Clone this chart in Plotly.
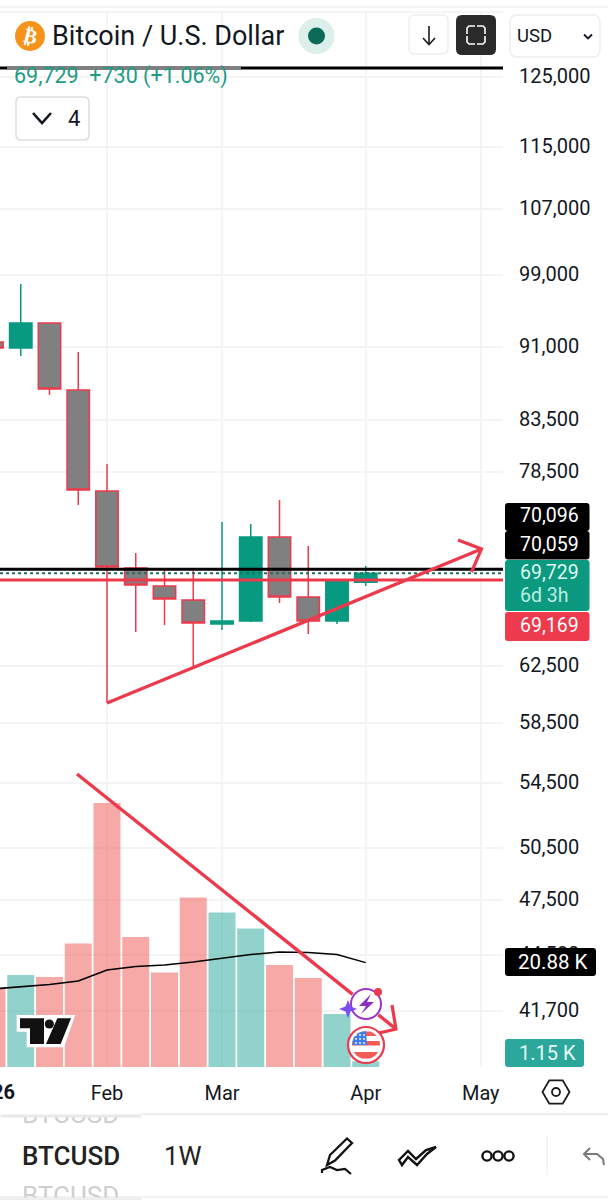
import math
import numpy as np
import pandas as pd
import plotly.graph_objects as go

# ---------- data ----------
weeks = ["2026-01-05","2026-01-12","2026-01-19","2026-01-26","2026-02-02","2026-02-09","2026-02-16",
         "2026-02-23","2026-03-02","2026-03-09","2026-03-16","2026-03-23","2026-03-30","2026-04-06"]
opens  = [91500,90850,93570,86480,76800,70150,68690,67570,65690,65930,72760,67810,65930,69000]
highs  = [91500,97950,93570,90420,79280,71400,70000,69910,74050,73880,76000,72000,69100,70330]
lows   = [90850,90000,85970,75550,59860,65070,65610,62450,65230,65850,67330,64930,65690,68690]
closes = [90850,93570,86580,76890,70240,68780,67650,65760,65930,72760,67810,65930,69100,69729]
volume_k = [15.8,18.4,18.0,24.7,52.8,26.0,18.9,33.9,30.9,27.7,20.4,17.8,10.6,1.15]
volume_ma_k = [15.6,16.1,16.5,17.2,19.4,20.1,20.4,21.0,21.7,22.5,23.0,22.9,22.5,20.88]
price_ticks = [125000,115000,107000,99000,91000,83500,78500,62500,58500,54500,50500,47500,44500,41700]
month_ticks = ["2026-02-02","2026-03-02","2026-04-06","2026-05-04"]
month_labels = ["Feb","Mar","Apr","May"]
line_black, line_last, line_red = 70059, 69729, 69169

# ---------- geometry ----------
W, H = 608, 1200
PLOT_R, PLOT_B = 503, 1067
PX_PER_LN, Y_REF, P_REF = 851.0, 76.5, 125000.0
PX_PER_WEEK, X_REF = 28.75, 107.0
VOL_PX_PER_K = 5.0

RED = "#EC3A4C"; GREEN = "#089981"; GRID = "#F4F4F4"; INK = "#131722"
FONT = "Roboto"

def X(p): return p / W
def Y(p): return 1 - p / H
def price_at(py): return P_REF * math.exp(-(py - Y_REF) / PX_PER_LN)
def date_at(px): return pd.Timestamp("2026-02-02") + pd.Timedelta(days=(px - X_REF) / PX_PER_WEEK * 7)

shapes, notes = [], []

def line(x0, y0, x1, y1, color=INK, width=2, dash=None):
    shapes.append(dict(type="line", xref="paper", yref="paper", layer="above",
                       x0=X(x0), y0=Y(y0), x1=X(x1), y1=Y(y1),
                       line=dict(color=color, width=width, dash=dash or "solid")))

def rect(x0, y0, x1, y1, fill="rgba(0,0,0,0)", border=None, width=1.5, r=0):
    xa, xb, ya, yb = X(x0), X(x1), Y(y0), Y(y1)
    if r:
        rx, ry = r / W, r / H
        path = (f"M {xa+rx} {ya} L {xb-rx} {ya} Q {xb} {ya} {xb} {ya-ry} L {xb} {yb+ry} Q {xb} {yb} {xb-rx} {yb} "
                f"L {xa+rx} {yb} Q {xa} {yb} {xa} {yb+ry} L {xa} {ya-ry} Q {xa} {ya} {xa+rx} {ya} Z")
        shapes.append(dict(type="path", xref="paper", yref="paper", layer="above", path=path, fillcolor=fill,
                           line=dict(color=border or "rgba(0,0,0,0)", width=width if border else 0)))
    else:
        shapes.append(dict(type="rect", xref="paper", yref="paper", layer="above", x0=xa, y0=ya, x1=xb, y1=yb,
                           fillcolor=fill, line=dict(color=border or "rgba(0,0,0,0)", width=width if border else 0)))

def circle(cx, cy, rx, ry=None, fill="rgba(0,0,0,0)", border=None, width=2):
    ry = ry or rx
    shapes.append(dict(type="circle", xref="paper", yref="paper", layer="above",
                       x0=X(cx-rx), x1=X(cx+rx), y0=Y(cy+ry), y1=Y(cy-ry), fillcolor=fill,
                       line=dict(color=border or "rgba(0,0,0,0)", width=width if border else 0)))

def poly(pts, fill="rgba(0,0,0,0)", color=None, width=2, closed=True):
    d = "M " + " L ".join(f"{X(a)} {Y(b)}" for a, b in pts) + (" Z" if closed else "")
    shapes.append(dict(type="path", xref="paper", yref="paper", layer="above", path=d, fillcolor=fill,
                       line=dict(color=color or "rgba(0,0,0,0)", width=width if color else 0)))

def text(s, x, y, size=19, color=INK, anchor="left", family=FONT, bold=False, angle=0, weight=None):
    font = dict(family=family, size=size, color=color)
    if weight:
        font["weight"] = weight
    notes.append(dict(text=f"<b>{s}</b>" if bold else s, xref="paper", yref="paper", x=X(x), y=Y(y),
                      xanchor=anchor, yanchor="middle", showarrow=False, textangle=angle,
                      font=font, borderpad=0, borderwidth=0))

def cover(x0, y0, x1, y1, color="#FFFFFF"):
    notes.append(dict(text=" ", xref="paper", yref="paper", x=X(x0), y=Y(y0), xanchor="left", yanchor="top",
                      width=x1-x0, height=y1-y0, bgcolor=color, showarrow=False, borderpad=0,
                      font=dict(size=1)))

def disc_slice(cx, cy, r, y0, y1, fill):
    ys = np.linspace(y0, y1, 14)
    left = [(cx - math.sqrt(max(r*r-(v-cy)**2, 0)), v) for v in ys]
    right = [(cx + math.sqrt(max(r*r-(v-cy)**2, 0)), v) for v in ys[::-1]]
    poly(left + right, fill=fill)

# ---------- header ----------
line(0, 7, W, 7, "#F0F0F0", 1.5)
line(0, 12, PLOT_R, 12, "#F2F2F2", 1.5)
circle(30, 36, 15, fill="#F7931A")
text("₿", 30, 36, 20, "#FFFFFF", "center", "DejaVu Sans", True, 14)
text("Bitcoin / U.S. Dollar", 52, 36.5, 27, "#131722")
circle(316.5, 36, 18, fill="#DCEFEB")
circle(316.5, 36, 8.5, fill="#0B6B58")
rect(409, 15, 448, 54, "#FFFFFF", "#EEEEEE", 1.5, 6)
line(429, 26, 429, 44, "#1C1C1C", 1.6)
poly([(423, 38), (429, 44.5), (435, 38)], color="#1C1C1C", width=1.6, closed=False)
rect(456, 15, 496, 55, "#2A2A2A", None, 0, 6)
for a, b, sx, sy in [(467, 26, 1, 1), (485, 26, -1, 1), (467, 44, 1, -1), (485, 44, -1, -1)]:
    poly([(a + sx*8, b), (a + sx*2, b), (a, b + sy*2), (a, b + sy*8)], color="#FFFFFF", width=1.6, closed=False)
rect(510, 15, 600, 57, "#FFFFFF", "#EEEEEE", 1.5, 7)
text("USD", 517, 36.5, 18.5, "#131722")
poly([(584, 34.5), (588, 38.5), (592, 34.5)], color="#131722", width=1.8, closed=False)

# ---------- current legend line ----------
line(0, 68, PLOT_R, 68, "#000000", 3)
line(7, 68, 241, 68, "#808080", 3)
text("69,729  +730 (+1.06%)", 14, 76, 21.5, "#1E9C85")
rect(16, 97, 89, 140, "#FFFFFF", "#DDDDDD", 1.5, 5)
poly([(33, 113), (42, 123), (51, 113)], color="#131722", width=2.6, closed=False)
text("4", 74, 118, 22, "#131722", "center")

# ---------- price lines ----------
for v, c, w_, d in [(line_black, "#000000", 3, "solid"), (line_last, "#1F6F63", 1.8, "dot"), (line_red, RED, 3, "solid")]:
    shapes.append(dict(type="line", xref="x domain", yref="y", layer="above", x0=0, x1=1, y0=v, y1=v,
                       line=dict(color=c, width=w_, dash=d)))

# ---------- hand-drawn arrows ----------
line(107, 703, 481.5, 549, RED, 3.4)
poly([(458, 540), (481.5, 549), (471.5, 572)], color=RED, width=3.2, closed=False)
line(77, 774, 396, 1029, RED, 3.4)
poly([(392, 1005), (396, 1029), (379, 1033)], color=RED, width=3.2, closed=False)

# ---------- right-hand labels ----------
rect(505, 503, 589.5, 531, "#000000", None, 0, 3)
rect(505, 531, 589.5, 559.5, "#000000", None, 0, 3)
rect(505, 560, 589.5, 611, "#0B9A80", None, 0, 3)
rect(505, 612, 589.5, 641, "#EE3A4D", None, 0, 3)
rect(505, 948, 596, 976, "#000000", None, 0, 3)
rect(505, 1039, 584, 1067, "#2BA89B", None, 0, 3)
text("70,096", 549, 515.5, 19.5, "#FFFFFF", "center")
text("70,059", 549, 544, 19.5, "#FFFFFF", "center")
text("69,729", 549, 572.5, 19.5, "#DFF7F1", "center")
text("6d 3h", 544.5, 596, 19.5, "#BDEDE1", "center")
text("69,169", 549, 625.5, 19.5, "#FFFFFF", "center")
text("20.88 K", 553, 962, 20.5, "#FFFFFF", "center")
text("1.15 K", 547, 1053, 20, "#E6F6F3", "center")

# ---------- tradingview logo ----------
def z(a, b): return (a / 3, 770 + b / 3)
poly([z(50, 735), z(226, 735), z(192, 832), z(80, 832), z(80, 785), z(50, 785)], fill="#FFFFFF")
poly([z(60, 745), z(132, 745), z(132, 822), z(90, 822), z(90, 775), z(60, 775)], fill="#111111")
circle(148 / 3, 770 + 762 / 3, 4.6, fill="#111111")
poly([z(172, 745), z(213, 745), z(182, 822), z(138, 822)], fill="#111111")

# ---------- lightning / star badge ----------
circle(366, 1004, 16.5, fill="#FFFFFF")
circle(366, 1004, 15, border="#9B35C9", width=2)
poly([(371, 994), (359, 1006), (366, 1006), (361, 1014), (374, 1002), (367, 1002)], fill="#8B2FC0")
circle(378, 992, 4, fill="#EC3A4C")
poly([(348, 1000), (350.5, 1006.5), (357, 1009), (350.5, 1011.5), (348, 1018), (345.5, 1011.5), (339, 1009), (345.5, 1006.5)],
     fill="#7A4DF0")

# ---------- flag badge ----------
circle(366, 1045, 18, fill="#FFFFFF", border=RED, width=2.2)
fx, fy, fr = 366, 1045, 14
disc_slice(fx, fy, fr, 1031.5, 1036, "#F25A55")
disc_slice(fx, fy, fr, 1041, 1045.5, "#F25A55")
disc_slice(fx, fy, fr, 1052, 1058.5, "#F25A55")
poly([(353, 1045), (352.6, 1041), (354, 1037), (358, 1033), (366, 1031), (367, 1045)], fill="#3F7DE8")
for a in (356, 360, 364):
    for b in (1035, 1039, 1043):
        circle(a, b, 0.9, fill="#FFFFFF")

# ---------- bottom bar ----------
line(0, 1114.3, W, 1114.3, "#E9E9E9", 1.5)
line(0, 1197, W, 1197, "#EEEEEE", 1.5)
hx = [(556 + 13.5*math.cos(math.radians(a)), 1092 + 13.5*math.sin(math.radians(a))) for a in range(0, 360, 60)]
poly(hx, color="#1C1C1C", width=1.8)
circle(556, 1092, 4, border="#1C1C1C", width=1.8)
# pencil
poly([(327, 1165), (330, 1155), (347, 1138.5), (352, 1143), (335, 1160.5)], color="#111111", width=2.3)
poly([(322, 1173), (322, 1170), (330, 1167), (337, 1170), (345, 1169), (351, 1174)], color="#111111", width=2.2, closed=False)
# ribbon
poly([(399, 1160), (408, 1151), (416, 1159), (426, 1150), (436, 1147), (427, 1154), (417, 1165), (408, 1157), (402, 1165)],
     color="#111111", width=2.4)
for a in (487, 498, 509):
    circle(a, 1156, 4.6, border="#111111", width=2.4)
line(547, 1135, 547, 1175, "#EEEEEE", 1.2)
poly([(590, 1148), (584, 1154), (590, 1160)], color="#7A7A7A", width=2, closed=False)
poly([(584, 1154), (597, 1154), (603, 1159), (604, 1165)], color="#7A7A7A", width=2, closed=False)

text("2026", -8, 1092, 20, "#131722", "center", bold=True)
text("BTCUSD", 21.5, 1155.5, 26, "#222222", weight=500)
text("1W", 164, 1155.5, 26, "#222222")
text("BTCUSD", 21.5, 1114, 26, "#CFCFCF")
text("BTCUSD", 21.5, 1196, 26, "#CFCFCF")
cover(0, 1103, 140, 1114)
cover(0, 1114, 140, 1115.5, "#E9E9E9")
cover(0, 1197.8, 140, 1206)
cover(0, 1196.5, 140, 1198, "#EEEEEE")

# ---------- figure ----------
xs = pd.to_datetime(weeks)
fig = go.Figure()
fig.add_trace(go.Bar(x=xs, y=volume_k, yaxis="y2", width=27 / PX_PER_WEEK * 7 * 86400000,
                     marker=dict(color=["rgba(38,166,154,0.5)" if c >= o else "rgba(239,83,80,0.5)" for o, c in zip(opens, closes)],
                                 line=dict(width=0)), hoverinfo="skip"))
fig.add_trace(go.Scatter(x=xs, y=volume_ma_k, yaxis="y2", mode="lines", line=dict(color="#000000", width=1.5), hoverinfo="skip"))
fig.add_trace(go.Candlestick(x=xs, open=opens, high=highs, low=lows, close=closes, whiskerwidth=0,
                             increasing=dict(line=dict(color=GREEN, width=1.5), fillcolor=GREEN),
                             decreasing=dict(line=dict(color=RED, width=1.5), fillcolor="#808080")))
fig.update_layout(
    width=W, height=H, margin=dict(l=0, r=0, t=0, b=0), paper_bgcolor="#FFFFFF", plot_bgcolor="#FFFFFF",
    showlegend=False, boxgap=0.22, boxgroupgap=0, shapes=shapes, annotations=notes,
    xaxis=dict(type="date", domain=[0, PLOT_R / W], range=[date_at(0), date_at(PLOT_R)], rangeslider=dict(visible=False),
               tickmode="array", tickvals=month_ticks, ticktext=month_labels, showgrid=True, gridcolor=GRID, gridwidth=1.5,
               zeroline=False, showline=False, ticks="outside", ticklen=8, tickcolor="rgba(0,0,0,0)",
               tickfont=dict(family=FONT, size=20, color=INK), anchor="y"),
    yaxis=dict(type="log", domain=[1 - PLOT_B / H, 1 - 12 / H], side="right", anchor="x",
               range=[math.log10(price_at(PLOT_B)), math.log10(price_at(12))],
               tickmode="array", tickvals=price_ticks, ticktext=[f"{v:,}" for v in price_ticks],
               showgrid=True, gridcolor=GRID, gridwidth=1.5, zeroline=False, showline=False,
               ticks="outside", ticklen=11, tickcolor="rgba(0,0,0,0)", ticklabelshift=-1,
               tickfont=dict(family=FONT, size=20, color=INK)),
    yaxis2=dict(overlaying="y", side="left", domain=[1 - PLOT_B / H, 1 - 12 / H], range=[0, (PLOT_B - 12) / VOL_PX_PER_K],
                visible=False, showgrid=False, zeroline=False),
)
fig.write_html("out.html", config=dict(displayModeBar=False),
               post_script="document.body.style.margin='0';document.body.style.overflow='hidden';")
